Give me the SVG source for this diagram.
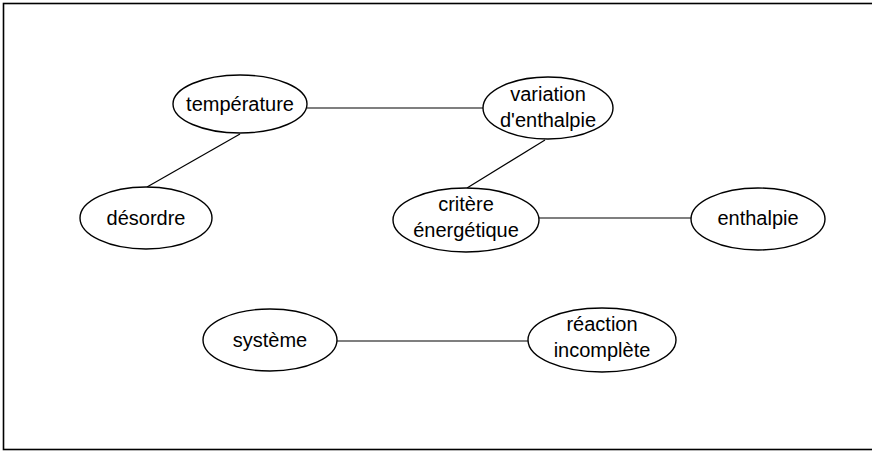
<svg xmlns="http://www.w3.org/2000/svg" width="872" height="451" viewBox="0 0 872 451">
<style>
.n ellipse{fill:#fff;stroke:#000;stroke-width:1.4}
.n text{font-family:"Liberation Sans",Arial,sans-serif;font-size:20px;fill:#000;text-anchor:middle}
#edges line{stroke:#000;stroke-width:1.2}
</style>
<rect x="0" y="0" width="872" height="451" fill="#fff"/>
<rect x="3.5" y="3.5" width="900" height="446" fill="none" stroke="#000" stroke-width="1.6"/>
<g id="edges">
<line x1="307" y1="108" x2="483" y2="108"/>
<line x1="240" y1="134" x2="147" y2="187"/>
<line x1="545" y1="140" x2="467" y2="188"/>
<line x1="539" y1="218" x2="692" y2="218"/>
<line x1="337" y1="341" x2="528" y2="341"/>
</g>
<g id="temperature" class="n"><ellipse cx="240" cy="104" rx="67" ry="29"/><text x="240" y="111">température</text></g>
<g id="variation" class="n"><ellipse cx="548" cy="108" rx="65" ry="31"/><text x="548" y="101">variation</text><text x="548" y="127">d'enthalpie</text></g>
<g id="desordre" class="n"><ellipse cx="146" cy="218" rx="66" ry="31"/><text x="146" y="225">désordre</text></g>
<g id="critere" class="n"><ellipse cx="466" cy="220" rx="73" ry="32"/><text x="466" y="211">critère</text><text x="466" y="237">énergétique</text></g>
<g id="enthalpie" class="n"><ellipse cx="758" cy="219" rx="67" ry="31"/><text x="758" y="225">enthalpie</text></g>
<g id="systeme" class="n"><ellipse cx="270" cy="340" rx="67" ry="31"/><text x="270" y="347">système</text></g>
<g id="reaction" class="n"><ellipse cx="602" cy="340" rx="74" ry="32"/><text x="602" y="331">réaction</text><text x="602" y="357">incomplète</text></g>
</svg>
